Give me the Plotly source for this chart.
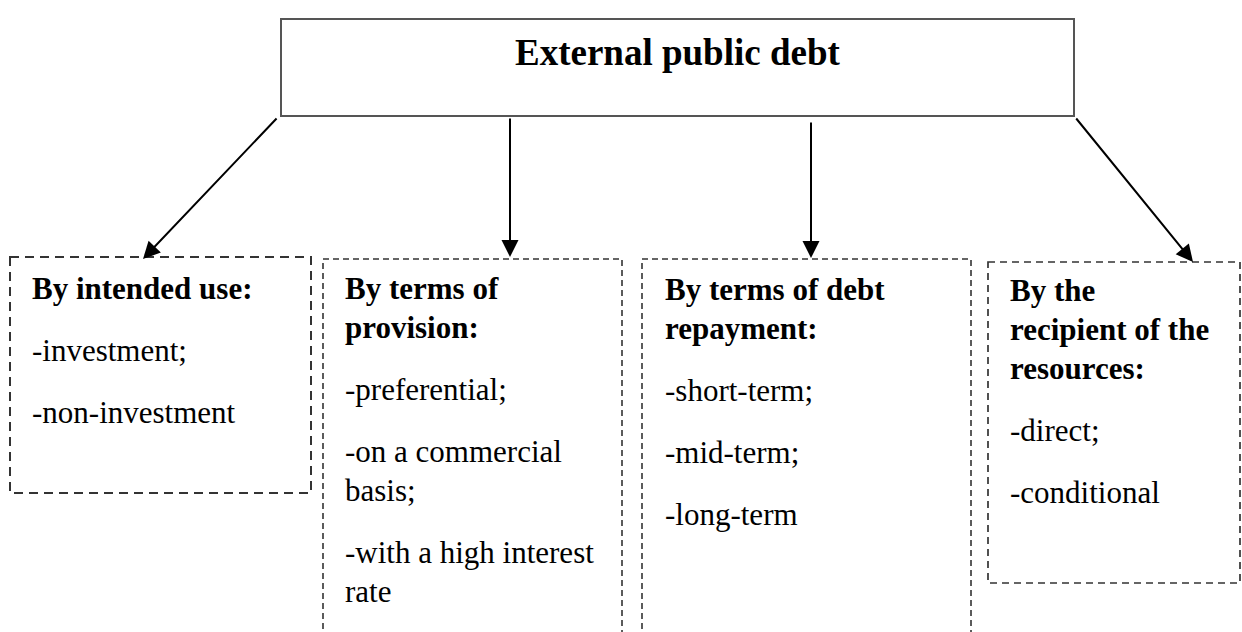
import plotly.graph_objects as go

# ---- content ----
title_text = "External public debt"
headers = [
    ["By intended use:"],
    ["By terms of", "provision:"],
    ["By terms of debt", "repayment:"],
    ["By the", "recipient of the", "resources:"],
]
items = [
    [["-investment;"], ["-non-investment"]],
    [["-preferential;"], ["-on a commercial", "basis;"], ["-with a high interest", "rate"]],
    [["-short-term;"], ["-mid-term;"], ["-long-term"]],
    [["-direct;"], ["-conditional"]],
]

# ---- layout constants (pixels, y downward) ----
W, H = 1242, 632
top_box = (281, 19, 1074, 116)
boxes = [
    (10, 257, 311, 493),
    (323, 259, 622, 660),
    (642, 259, 971, 660),
    (988, 262, 1240, 583),
]
box_dash = ["9px,6px", "6px,4px", "6px,4px", "7px,5px"]
box_width = [2.0, 1.6, 1.6, 1.7]
text_x = [30, 343, 663, 1008]
arrows = [  # (tail_x, tail_y, head_x, head_y)
    (278, 117, 143, 259),
    (510, 117, 510, 257),
    (811, 121, 811, 258),
    (1075, 117, 1193, 262),
]
FONT = "Liberation Serif, Times New Roman, serif"
fs = 31
first_base = [298, 298, 299, 300]
wrap_step = 39
para_step = 62
base_to_mid = 10

fig = go.Figure()
fig.add_trace(go.Scatter(x=[0, W], y=[0, H], mode="markers",
                         marker=dict(opacity=0), hoverinfo="skip", showlegend=False))

shapes = []
x0, y0, x1, y1 = top_box
shapes.append(dict(type="rect", x0=x0, y0=y0, x1=x1, y1=y1,
                   line=dict(color="#555555", width=2), fillcolor="white", layer="below"))
for (bx0, by0, bx1, by1), dash, lw in zip(boxes, box_dash, box_width):
    shapes.append(dict(type="rect", x0=bx0, y0=by0, x1=bx1, y1=by1,
                       line=dict(color="#333333", width=lw, dash=dash), layer="below"))

ann = []
ann.append(dict(x=(x0 + x1) / 2, y=52, text="<b>" + title_text + "</b>",
                showarrow=False, xanchor="center", yanchor="middle",
                font=dict(family=FONT, size=37, color="black")))

for i in range(4):
    base = first_base[i]
    for k, line in enumerate(headers[i]):
        if k > 0:
            base += wrap_step
        ann.append(dict(x=text_x[i], y=base - base_to_mid, text="<b>" + line + "</b>",
                        showarrow=False, xanchor="left", yanchor="middle",
                        font=dict(family=FONT, size=fs, color="black")))
    for para in items[i]:
        base += para_step
        for k, line in enumerate(para):
            if k > 0:
                base += wrap_step
            ann.append(dict(x=text_x[i], y=base - base_to_mid, text=line,
                            showarrow=False, xanchor="left", yanchor="middle",
                            font=dict(family=FONT, size=fs, color="black")))

for tx, ty, hx, hy in arrows:
    ann.append(dict(x=hx, y=hy, ax=tx, ay=ty, xref="x", yref="y", axref="x", ayref="y",
                    text="", showarrow=True, arrowhead=2, arrowsize=1.7, arrowwidth=2,
                    arrowcolor="black", standoff=0, startstandoff=0))

fig.update_layout(
    width=W, height=H, margin=dict(l=0, r=0, t=0, b=0),
    paper_bgcolor="white", plot_bgcolor="white",
    xaxis=dict(range=[0, W], visible=False, fixedrange=True),
    yaxis=dict(range=[H, 0], visible=False, fixedrange=True),
    shapes=shapes, annotations=ann, showlegend=False,
)
fig.write_html("out.html", config={"displayModeBar": False},
               post_script="document.body.style.margin='0';document.body.style.overflow='hidden';")
